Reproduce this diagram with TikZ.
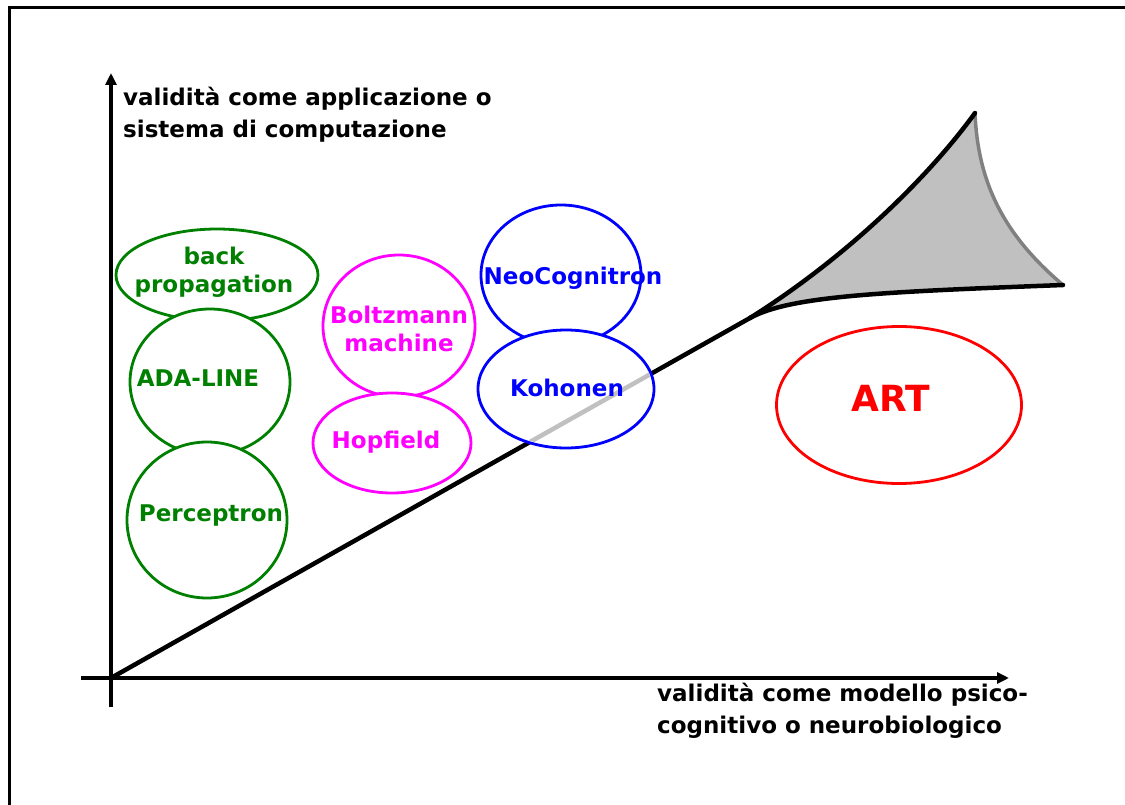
\documentclass[tikz,border=0pt]{standalone}
\usepackage{fontspec}
\setmainfont{DejaVu Sans}
\usetikzlibrary{arrows.meta,shapes.geometric}
\definecolor{nngreen}{RGB}{0,128,0}
\definecolor{nnmagenta}{RGB}{255,0,255}
\definecolor{nnblue}{RGB}{0,0,255}
\definecolor{nnred}{RGB}{255,0,0}
\definecolor{regionfill}{RGB}{192,192,192}
\definecolor{regionedge}{RGB}{128,128,128}
\tikzset{
  model/.style={ellipse, draw=#1, line width=2.8pt, fill=white, inner sep=0pt},
  lbl/.style={font=\fontsize{23}{28}\selectfont\bfseries, align=center, inner sep=0pt, text=#1},
  axislbl/.style={font=\fontsize{23}{32}\selectfont\bfseries, align=left, anchor=north west, inner sep=0pt},
  axis/.style={line width=3.5pt, -{Triangle[length=12pt,width=11pt]}},
  curve/.style={line width=4.5pt, line cap=round, line join=round},
}
\begin{document}
\begin{tikzpicture}[x=1pt, y=-1pt]
\useasboundingbox (0,0) rectangle (1125,805);
% frame
\draw[line width=3pt] (9,805) -- (9,8) -- (1125,8);

% axes
\coordinate (O) at (111,678);
\coordinate (ytop) at (111,73);
\coordinate (ybot) at (111,707);
\coordinate (xleft) at (81,678);
\coordinate (xright) at (1009,678);
\draw[axis] (ybot) -- (ytop);
\draw[axis] (xleft) -- (xright);
\node[axislbl] (ylab) at (123,87) {validità come applicazione o\\sistema di computazione};
\node[axislbl] (xlab) at (657,683) {validità come modello psico-\\cognitivo o neurobiologico};

% diagonal and the shaded region at its end
\coordinate (P) at (750,318);
\coordinate (T) at (975,113);
\coordinate (R) at (1063,285);
\fill[regionfill] (P) .. controls (850,255) and (930,175) .. (T)
  .. controls (978,190) and (1010,240) .. (R)
  .. controls (880,292) and (790,296) .. (P) -- cycle;
\draw[regionedge, line width=3.5pt, line cap=round] (T) .. controls (978,190) and (1010,240) .. (R);
\draw[curve] (P) .. controls (850,255) and (930,175) .. (T);
\draw[curve] (P) .. controls (790,296) and (880,292) .. (R);
\draw[curve] (O) -- (P);

% green models
\node[model=nngreen, minimum width=202pt, minimum height=92pt] (bpE) at (217,275) {};
\node[model=nngreen, minimum width=160pt, minimum height=146pt] (adaE) at (210,382) {};
\node[model=nngreen, minimum width=160pt, minimum height=156pt] (perE) at (207,520) {};
\node[lbl=nngreen] (bp) at (214,272) {back\\propagation};
\node[lbl=nngreen] (ada) at (198,378) {ADA-LINE};
\node[lbl=nngreen] (per) at (211,516) {Perceptron};

% magenta models
\node[model=nnmagenta, minimum width=152pt, minimum height=142pt] (bolE) at (399,326) {};
\node[model=nnmagenta, minimum width=158pt, minimum height=100pt] (hopE) at (392,443) {};
\node[lbl=nnmagenta] (bol) at (399,329) {Boltzmann\\machine};
\node[lbl=nnmagenta] (hop) at (386,442) {Hopfield};

% blue models; the diagonal shows faintly through Kohonen
\node[model=nnblue, minimum width=160pt, minimum height=140pt] (neoE) at (561,275) {};
\node[model=nnblue, minimum width=176pt, minimum height=118pt] (kohE) at (566,389) {};
\begin{scope}
  \clip (kohE.center) ellipse [x radius=86pt, y radius=57pt];
  \draw[curve, regionfill, line cap=butt] (O) -- (P);
\end{scope}
\node[lbl=nnblue] (neo) at (573,278) {NeoCognitron};
\node[lbl=nnblue] (koh) at (567,388) {Kohonen};

% ART
\node[model=nnred, minimum width=245pt, minimum height=157pt] (artE) at (899,405) {};
\node[lbl=nnred, font=\fontsize{36}{40}\selectfont\bfseries] (art) at (891,398) {ART};
\end{tikzpicture}
\end{document}
